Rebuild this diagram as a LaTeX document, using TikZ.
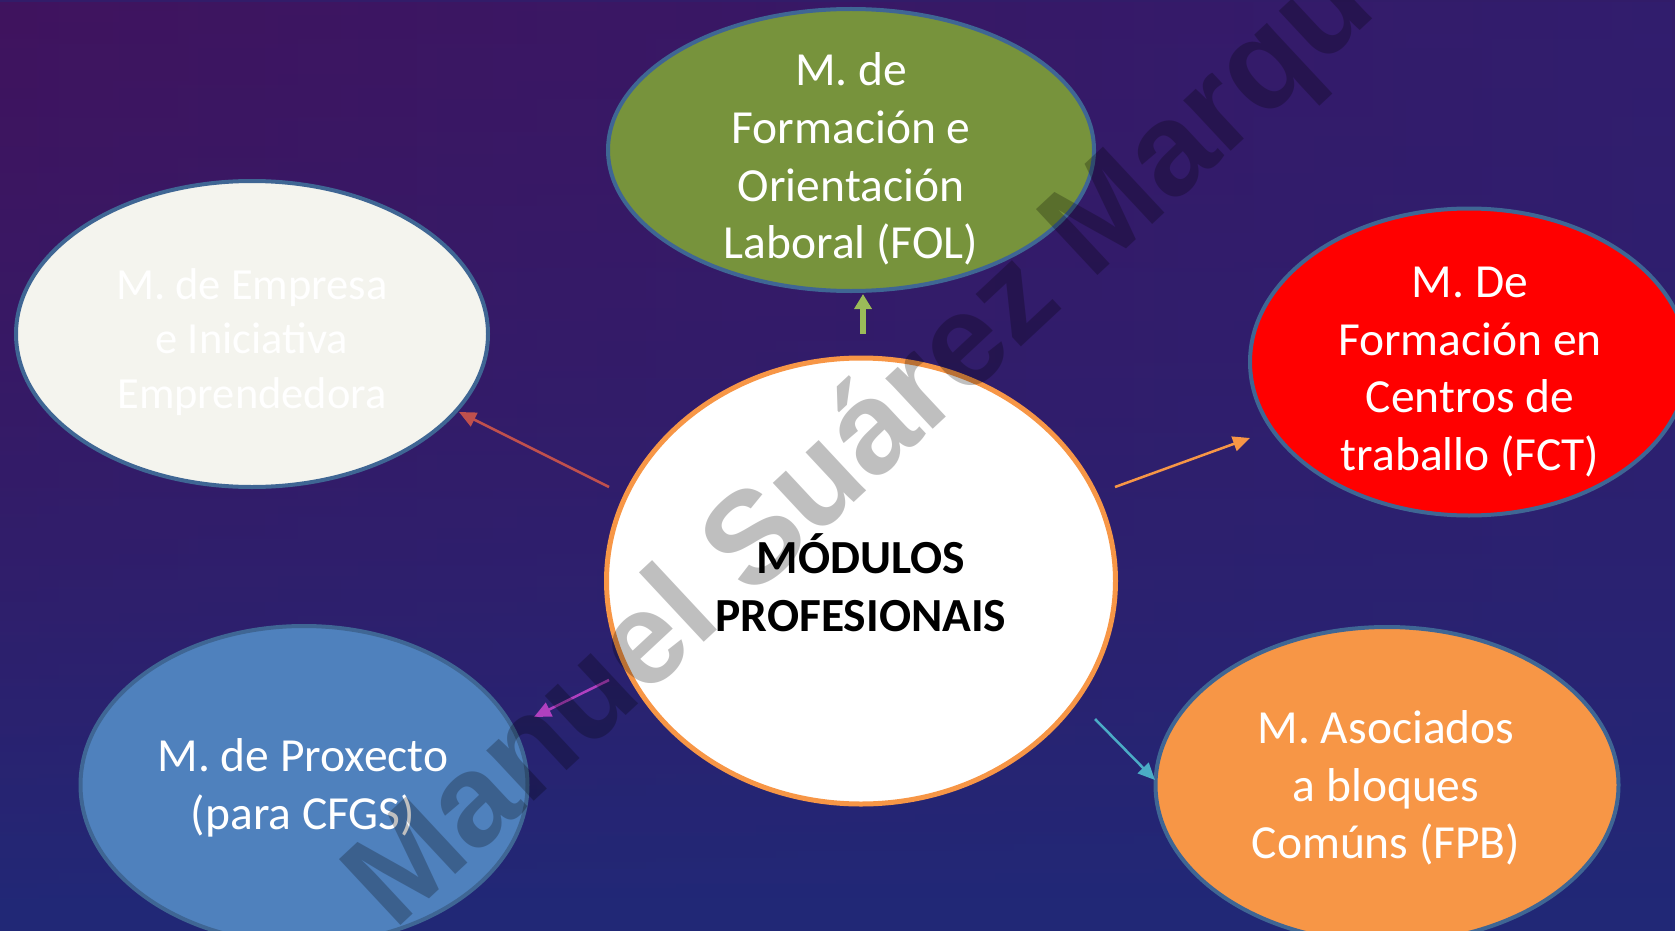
\documentclass[tikz,border=0pt]{standalone}
\usepackage{fontspec}
\setmainfont{Carlito}
\newfontfamily\wmfont{Liberation Sans}
\usetikzlibrary{shapes.geometric,arrows.meta,fadings}
\definecolor{bgtop}{HTML}{3A1662}
\definecolor{bgmid}{HTML}{2A2270}
\definecolor{bgbot}{HTML}{17307F}
\definecolor{bgleft}{HTML}{46105A}
\definecolor{bgright}{HTML}{311E70}
\definecolor{edgeblue}{HTML}{3F6694}
\definecolor{folgreen}{HTML}{77933C}
\definecolor{empwhite}{HTML}{F4F4EE}
\definecolor{fctred}{HTML}{FF0000}
\definecolor{proxblue}{HTML}{4F81BD}
\definecolor{asocorange}{HTML}{F79646}
\definecolor{arrgreen}{HTML}{9BBB59}
\definecolor{arrred}{HTML}{C0504D}
\definecolor{arrorange}{HTML}{F79646}
\definecolor{arrpurple}{HTML}{B040C0}
\definecolor{arrcyan}{HTML}{4BACC6}
\pgfdeclareverticalshading{bgshade}{100bp}{color(0bp)=(bgbot); color(50bp)=(bgmid); color(100bp)=(bgtop)}
\tikzset{
  modbox/.style={ellipse, draw=edgeblue, line width=4pt, inner sep=0pt},
  modtext/.style={align=center, text=white, inner sep=0pt,
    font=\fontsize{47.5}{57.7}\selectfont},
  linkarrow/.style={line width=2.5pt, -{Triangle[length=17pt,width=15pt]}},
}
\begin{document}
\begin{tikzpicture}[x=1pt,y=-1pt]
\useasboundingbox (0,0) rectangle (1675,931);
\clip (0,0) rectangle (1675,931);
\shade[shading=bgshade] (0,0) rectangle (1675,931);
\shade[left color=bgleft, right color=bgright, path fading=south, opacity=0.7] (0,0) rectangle (1675,931);

% module ellipses
\node[modbox, fill=folgreen, minimum width=486pt, minimum height=282pt] (fol) at (851,150) {};
\node[modbox, fill=empwhite, minimum width=472pt, minimum height=306pt] (emp) at (252,334) {};
\node[modbox, fill=fctred, minimum width=438pt, minimum height=307pt] (fct) at (1469,362) {};
\node[modbox, fill=proxblue, minimum width=447pt, minimum height=318pt] (prox) at (304,785) {};
\node[modbox, fill=asocorange, minimum width=463pt, minimum height=316pt] (asoc) at (1387,785) {};
\node[ellipse, draw=asocorange, fill=white, line width=5pt, inner sep=0pt,
      minimum width=509pt, minimum height=446pt] (mod) at (861,581) {};

% texts
\node[modtext] (folt) at (851,159) {M. de\\Formación e\\Orientación\\Laboral (FOL)};
\node[modtext, font=\fontsize{44.5}{54.5}\selectfont] (empt) at (252,342) {M. de Empresa\\e Iniciativa\\Emprendedora};
\node[modtext] (fctt) at (1470,372) {M. De\\Formación en\\Centros de\\traballo (FCT)};
\node[modtext] (proxt) at (303,788) {M. de Proxecto\\(para CFGS)};
\node[modtext] (asoct) at (1386,788) {M. Asociados\\a bloques\\Comúns (FPB)};
\node[modtext, text=black, font=\fontsize{47.5}{57.7}\selectfont\bfseries] (modt) at (861,583) {MÓDULOS\\PROFESIONAIS};

% connectors
\coordinate (gs) at (863,334); \coordinate (ge) at (863,294);
\coordinate (rs) at (609,487); \coordinate (re) at (459,412);
\coordinate (os) at (1115,487); \coordinate (oe) at (1250,438);
\coordinate (ps) at (609,680); \coordinate (pe) at (534,717);
\coordinate (cs) at (1095,719); \coordinate (ce) at (1155,780);
\draw[black, opacity=0.45, line width=6pt, -{Triangle[length=15pt,width=17pt]}, xshift=2pt, yshift=3pt] (gs) -- (ge);
\draw[arrgreen, line width=6pt, -{Triangle[length=15pt,width=17pt]}] (gs) -- (ge);
\draw[linkarrow, arrred] (rs) -- (re);
\draw[linkarrow, arrorange] (os) -- (oe);
\draw[linkarrow, arrpurple] (ps) -- (pe);
\draw[linkarrow, arrcyan] (cs) -- (ce);

% watermark
\node[rotate=43, text=black, opacity=0.25, inner sep=0pt,
      font=\wmfont\bfseries\fontsize{131}{131}\selectfont] (wm) at (914,400) {Manuel Suárez Marquez};
\end{tikzpicture}
\end{document}
